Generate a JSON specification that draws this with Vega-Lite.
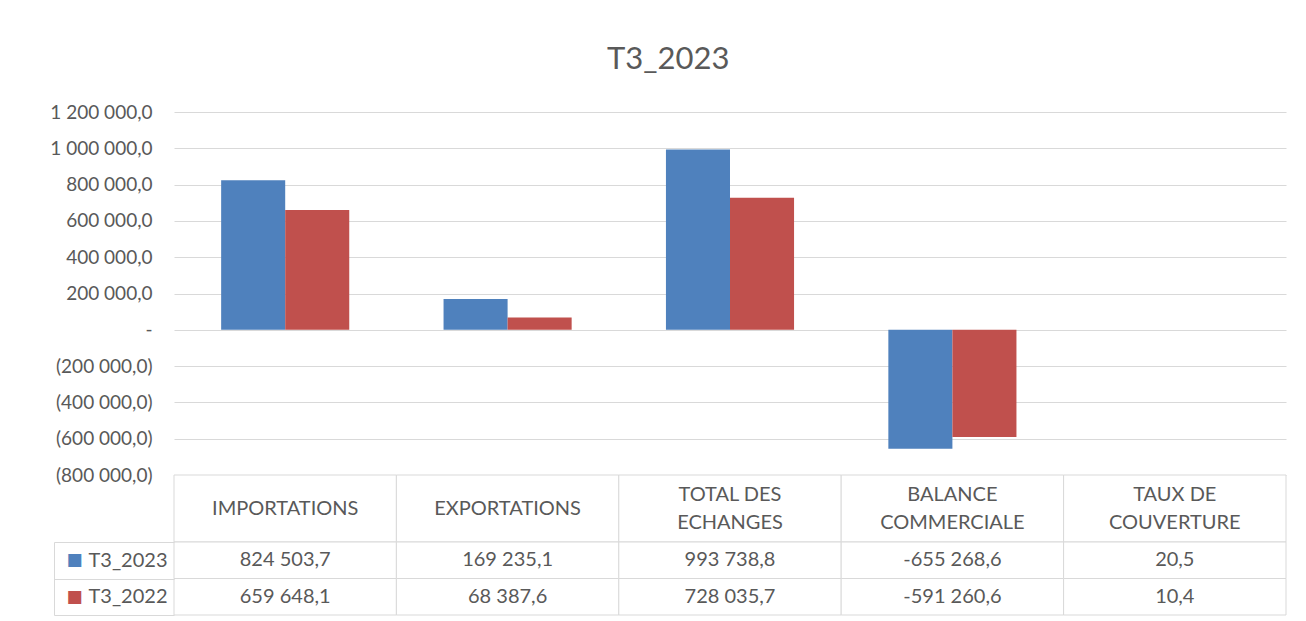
{
  "$schema": "https://vega.github.io/schema/vega-lite/v6.json",
  "background": "white",
  "padding": {"left": 49, "top": 44, "right": 19, "bottom": 6},
  "bounds": "flush",
  "title": {"text": "T3_2023", "fontSize": 31, "font": "Lato", "fontWeight": "normal", "color": "#595959", "anchor": "middle", "offset": 27},
  "data": {"values": [
    {"cat": "IMPORTATIONS", "head": "IMPORTATIONS", "series": "T3_2023", "value": 824503.7},
    {"cat": "EXPORTATIONS", "head": "EXPORTATIONS", "series": "T3_2023", "value": 169235.1},
    {"cat": "TOTAL DES ECHANGES", "head": "TOTAL DES|ECHANGES", "series": "T3_2023", "value": 993738.8},
    {"cat": "BALANCE COMMERCIALE", "head": "BALANCE|COMMERCIALE", "series": "T3_2023", "value": -655268.6},
    {"cat": "TAUX DE COUVERTURE", "head": "TAUX DE|COUVERTURE", "series": "T3_2023", "value": 20.5},
    {"cat": "IMPORTATIONS", "head": "IMPORTATIONS", "series": "T3_2022", "value": 659648.1},
    {"cat": "EXPORTATIONS", "head": "EXPORTATIONS", "series": "T3_2022", "value": 68387.6},
    {"cat": "TOTAL DES ECHANGES", "head": "TOTAL DES|ECHANGES", "series": "T3_2022", "value": 728035.7},
    {"cat": "BALANCE COMMERCIALE", "head": "BALANCE|COMMERCIALE", "series": "T3_2022", "value": -591260.6},
    {"cat": "TAUX DE COUVERTURE", "head": "TAUX DE|COUVERTURE", "series": "T3_2022", "value": 10.4}
  ]},
  "spacing": 0,
  "vconcat": [
    {
      "width": 1112,
      "height": 363,
      "mark": {"type": "bar"},
      "encoding": {
        "x": {"field": "cat", "type": "nominal", "sort": ["IMPORTATIONS", "EXPORTATIONS", "TOTAL DES ECHANGES", "BALANCE COMMERCIALE", "TAUX DE COUVERTURE"], "axis": null, "scale": {"paddingInner": 0.424, "paddingOuter": 0.212}},
        "xOffset": {"field": "series", "type": "nominal", "sort": ["T3_2023", "T3_2022"]},
        "y": {"field": "value", "type": "quantitative", "scale": {"domain": [-800000, 1200000], "nice": false},
          "axis": {"values": [-800000, -600000, -400000, -200000, 0, 200000, 400000, 600000, 800000, 1000000, 1200000],
            "title": null, "domain": false, "ticks": false, "labelPadding": 22, "labelFontSize": 19, "labelColor": "#595959",
            "grid": true, "gridColor": "#D9D9D9", "gridWidth": 1,
            "labelExpr": "datum.value == 0 ? '-\u2003' : (datum.value < 0 ? '(' + format(-datum.value, ',.1f') + ')' : format(datum.value, ',.1f') + '\u2009')"}},
        "color": {"field": "series", "type": "nominal", "scale": {"domain": ["T3_2023", "T3_2022"], "range": ["#4F81BD", "#C0504D"]}, "legend": null}
      }
    },
    {
      "width": 1112,
      "height": 67,
      "transform": [{"filter": "datum.series == 'T3_2023'"}],
      "encoding": {
        "x": {"field": "cat", "type": "nominal", "sort": ["IMPORTATIONS", "EXPORTATIONS", "TOTAL DES ECHANGES", "BALANCE COMMERCIALE", "TAUX DE COUVERTURE"], "axis": null, "scale": {"padding": 0}}
      },
      "layer": [
        {"mark": {"type": "rect", "fill": "white", "stroke": "#D9D9D9", "strokeWidth": 1}, "encoding": {"y": {"value": 0}, "y2": {"value": "height"}}},
        {"transform": [{"filter": "indexof(datum.head, '|') < 0"}],
         "mark": {"type": "text", "fontSize": 20, "color": "#595959", "baseline": "middle"}, "encoding": {"text": {"field": "head"}}},
        {"transform": [{"filter": "indexof(datum.head, '|') >= 0"}],
         "mark": {"type": "text", "fontSize": 20, "color": "#595959", "lineBreak": "|", "lineHeight": 28, "baseline": "middle", "dy": -14}, "encoding": {"text": {"field": "head"}}}
      ]
    },
    {
      "width": 1112,
      "height": 73,
      "layer": [
        {
          "mark": {"type": "rect", "fill": "white", "stroke": "#D9D9D9", "strokeWidth": 1},
          "encoding": {
            "x": {"field": "cat", "type": "nominal", "sort": ["IMPORTATIONS", "EXPORTATIONS", "TOTAL DES ECHANGES", "BALANCE COMMERCIALE", "TAUX DE COUVERTURE"], "axis": null, "scale": {"padding": 0}},
            "y": {"field": "series", "type": "nominal", "sort": ["T3_2023", "T3_2022"],
              "axis": {"orient": "left", "title": null, "domain": false, "tickBand": "extent", "tickSize": 120, "tickColor": "#D9D9D9", "labelPadding": -113, "labelFontSize": 20, "labelColor": "#595959"}}
          }
        },
        {
          "mark": {"type": "text", "fontSize": 20, "color": "#595959", "baseline": "middle"},
          "encoding": {
            "x": {"field": "cat", "type": "nominal", "sort": ["IMPORTATIONS", "EXPORTATIONS", "TOTAL DES ECHANGES", "BALANCE COMMERCIALE", "TAUX DE COUVERTURE"], "axis": null},
            "y": {"field": "series", "type": "nominal", "sort": ["T3_2023", "T3_2022"], "axis": null},
            "text": {"field": "value", "type": "quantitative", "format": ",.1f"}
          }
        },
        {
          "mark": {"type": "text", "opacity": 0},
          "encoding": {
            "y": {"field": "series", "type": "nominal", "sort": ["T3_2023", "T3_2022"],
              "axis": {"orient": "left", "offset": 120, "title": null, "domain": true, "domainColor": "#D9D9D9", "ticks": false,
                "labelExpr": "'\u25a0'", "labelAlign": "left", "labelPadding": -12, "labelFontSize": 17, "labelFont": "DejaVu Sans",
                "labelColor": {"condition": {"test": "datum.value == 'T3_2023'", "value": "#4F81BD"}, "value": "#C0504D"}}},
            "text": {"value": ""}
          }
        }
      ],
      "resolve": {"axis": {"y": "independent"}}
    }
  ],
  "config": {
    "view": {"stroke": null},
    "axis": {"labelFont": "Lato"},
    "text": {"font": "Lato"},
    "locale": {"number": {"decimal": ",", "thousands": "\u00a0", "grouping": [3], "currency": ["", "\u00a0€"], "minus": "-"}}
  }
}
